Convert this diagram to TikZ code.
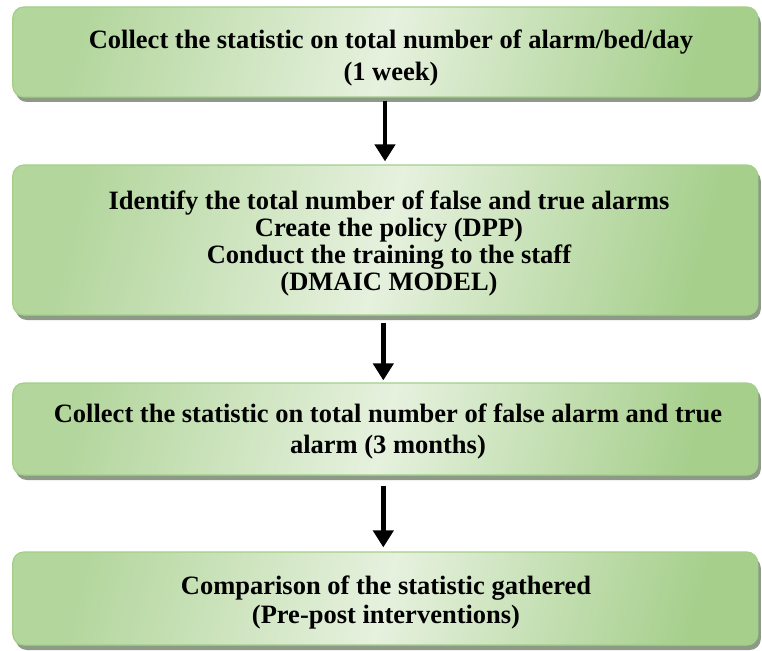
\documentclass[tikz,border=0pt]{standalone}
\usepackage{fontspec}
\setmainfont{Liberation Serif}
\usetikzlibrary{arrows.meta,shadows,positioning}
\definecolor{gdark}{HTML}{A6CF8C}
\definecolor{glight}{HTML}{E6F1DE}
\definecolor{gborder}{HTML}{A3CF88}
\definecolor{gshadow}{HTML}{8E9A88}
\tikzset{
  flowbox/.style={rectangle, rounded corners=11pt, draw=gborder, line width=1.2pt,
    left color=gdark!80!glight, right color=gdark, middle color=glight, shading angle=75,
    drop shadow={shadow xshift=3pt, shadow yshift=-5pt, fill=gshadow, opacity=1},
    minimum width=745pt, align=center, inner sep=0pt},
  flowarrow/.style={line width=4.5pt, -{Triangle[width=20pt,length=17pt]}}
}
\newcommand{\boxfont}[1]{\bfseries\fontsize{26.5}{#1}\selectfont}
\begin{document}
\begin{tikzpicture}[x=1pt,y=-1pt]
\useasboundingbox (0,0) rectangle (762,650);
\node[flowbox, minimum height=90pt] (b1) at (385.3,52) {};
\node[align=center, font=\boxfont{32}] (t1) at (391,58) {Collect the statistic on total number of alarm/bed/day\\(1 week)};
\node[flowbox, minimum height=150pt] (b2) at (385.3,240) {};
\node[align=center, font=\boxfont{27}] (t2) at (389,243) {Identify the total number of false and true alarms\\Create the policy (DPP)\\Conduct the training to the staff\\(DMAIC MODEL)};
\node[flowbox, minimum height=92pt] (b3) at (385.3,429) {};
\node[align=center, font=\boxfont{31}] (t3) at (388,431) {Collect the statistic on total number of false alarm and true\\alarm (3 months)};
\node[flowbox, minimum height=93pt] (b4) at (385.3,598.5) {};
\node[align=center, font=\boxfont{29}] (t4) at (386,602) {Comparison of the statistic gathered\\(Pre-post interventions)};
\draw[flowarrow, shorten <=3pt, shorten >=3pt] ([xshift=-0.3pt]b1.south) -- ([xshift=-0.3pt]b2.north);
\draw[flowarrow, shorten <=7pt, shorten >=2pt] ([xshift=-2pt]b2.south) -- ([xshift=-2pt]b3.north);
\draw[flowarrow, shorten <=10pt, shorten >=4pt] ([xshift=-2pt]b3.south) -- ([xshift=-2pt]b4.north);
\end{tikzpicture}
\end{document}
